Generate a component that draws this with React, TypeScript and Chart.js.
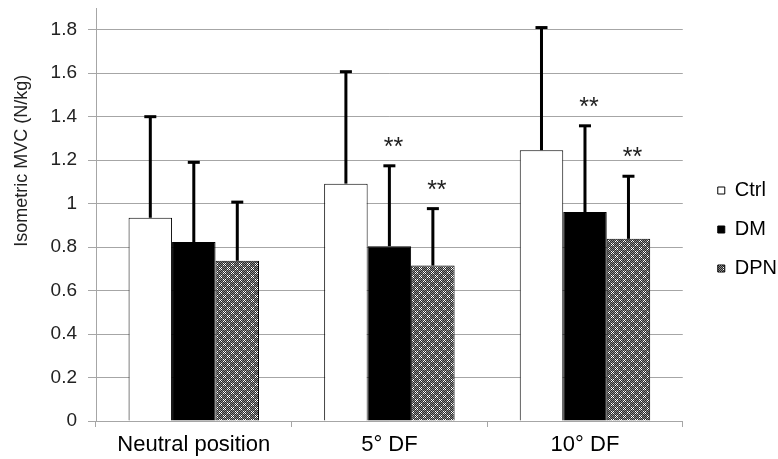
import React, { useEffect, useRef } from 'react';
import { Chart, registerables } from 'chart.js';

Chart.register(...registerables);

// ---- data ----
const categories = ['Neutral position', '5° DF', '10° DF'];
const seriesNames = ['Ctrl', 'DM', 'DPN'];
const ctrlMean = [0.935, 1.092, 1.246];
const dmMean = [0.823, 0.804, 0.961];
const dpnMean = [0.737, 0.715, 0.838];
const ctrlSD = [0.465, 0.515, 0.564];
const dmSD = [0.367, 0.37, 0.397];
const dpnSD = [0.27, 0.262, 0.288];
const ctrlSig = ['', '', ''];
const dmSig = ['', '**', '**'];
const dpnSig = ['', '**', '**'];
const yTicks = [0, 0.2, 0.4, 0.6, 0.8, 1, 1.2, 1.4, 1.6, 1.8];
const yTickLabels = ['0', '0.2', '0.4', '0.6', '0.8', '1', '1.2', '1.4', '1.6', '1.8'];
const yMax = 1.9;
const yTitle = 'Isometric MVC (N/kg)';

const FONT = '"Liberation Sans", Arial, sans-serif';
const GRID = '#a6a6a6';

function makePattern(): CanvasPattern | string {
  const c = document.createElement('canvas');
  c.width = 8;
  c.height = 8;
  const g = c.getContext('2d');
  if (!g) return '#777';
  g.fillStyle = '#8a8a8a';
  g.fillRect(0, 0, 8, 8);
  g.fillStyle = '#2a2a2a';
  for (let yy = 0; yy < 8; yy++) {
    for (let xx = 0; xx < 8; xx++) {
      if ((xx + yy) % 2 === 1) g.fillRect(xx, yy, 1, 1);
    }
  }
  g.fillStyle = '#ffffff';
  const whites = [
    [4, 4], [3, 3], [5, 5], [3, 5], [5, 3],
    [0, 0], [7, 7], [1, 1], [7, 1], [1, 7],
  ];
  whites.forEach(([xx, yy]) => g.fillRect(xx, yy, 1, 1));
  const p = g.createPattern(c, 'repeat');
  return p || '#777';
}

export default function App() {
  const ref = useRef<HTMLCanvasElement | null>(null);

  useEffect(() => {
    document.body.style.margin = '0';
    const canvas = ref.current;
    if (!canvas) return;
    const pattern = makePattern();
    const means = [ctrlMean, dmMean, dpnMean];
    const sds = [ctrlSD, dmSD, dpnSD];
    const sigs = [ctrlSig, dmSig, dpnSig];

    const errPlugin = {
      id: 'errbars',
      afterDatasetsDraw(chart: any) {
        const ctx = chart.ctx;
        const ys = chart.scales.y;
        chart.data.datasets.forEach((_ds: any, i: number) => {
          const meta = chart.getDatasetMeta(i);
          meta.data.forEach((bar: any, j: number) => {
            const top = ys.getPixelForValue(means[i][j] + sds[i][j]);
            const x = bar.x;
            ctx.save();
            ctx.fillStyle = '#000';
            ctx.fillRect(x - 1.5, top, 3, bar.y - top);
            ctx.fillRect(x - 6, top - 1.5, 12, 3);
            const s = sigs[i][j];
            if (s) {
              ctx.font = `25px ${FONT}`;
              ctx.textAlign = 'center';
              ctx.textBaseline = 'alphabetic';
              const m = ctx.measureText(s);
              const cy = top - 24;
              const by = cy + (m.actualBoundingBoxAscent - m.actualBoundingBoxDescent) / 2;
              ctx.fillStyle = '#222';
              ctx.fillText(s, x + 4, by);
            }
            ctx.restore();
          });
        });
      },
    };

    const titlePlugin = {
      id: 'ytitle',
      afterDraw(chart: any) {
        const ctx = chart.ctx;
        const a = chart.chartArea;
        ctx.save();
        ctx.translate(22, a.top + (a.bottom - a.top) * 0.37);
        ctx.rotate(-Math.PI / 2);
        ctx.font = `18px ${FONT}`;
        ctx.fillStyle = '#222';
        ctx.textAlign = 'center';
        ctx.textBaseline = 'middle';
        ctx.fillText(yTitle, 0, 0);
        ctx.restore();
      },
    };

    const legendShift = {
      id: 'legendShift',
      afterLayout(chart: any) {
        const lg = chart.legend;
        if (!lg) return;
        lg.left += 16;
        lg.right += 16;
        lg.top -= 4;
        lg.bottom -= 4;
      },
    };

    const chart = new Chart(canvas, {
      type: 'bar',
      data: {
        labels: categories,
        datasets: [
          {
            label: seriesNames[0],
            data: ctrlMean,
            backgroundColor: '#ffffff',
            borderColor: '#000000',
            borderWidth: 1,
          },
          {
            label: seriesNames[1],
            data: dmMean,
            backgroundColor: '#000000',
            borderColor: '#000000',
            borderWidth: 1,
          },
          {
            label: seriesNames[2],
            data: dpnMean,
            backgroundColor: pattern as any,
            borderColor: '#000000',
            borderWidth: 1,
          },
        ],
      },
      options: {
        animation: false,
        responsive: false,
        events: [],
        layout: { padding: { left: 0, top: 8, right: 7, bottom: 0 } },
        datasets: {
          bar: { categoryPercentage: 0.667, barPercentage: 1 },
        },
        plugins: {
          tooltip: { enabled: false },
          legend: {
            position: 'right',
            labels: {
              font: { family: FONT, size: 20 },
              color: '#000',
              boxWidth: 7,
              boxHeight: 7,
              padding: 19,
            },
          },
        },
        scales: {
          x: {
            grid: {
              display: true,
              drawOnChartArea: false,
              offset: true,
              tickLength: 6,
              color: GRID,
            },
            border: { display: true, color: GRID },
            ticks: {
              font: { family: FONT, size: 22 },
              color: '#000',
              padding: 5,
              maxRotation: 0,
              autoSkip: false,
            },
            afterFit(scale: any) {
              scale.height = 38;
              scale.paddingLeft = 0;
              scale.paddingRight = 0;
            },
          },
          y: {
            min: 0,
            max: yMax,
            grid: { color: GRID, tickLength: 8, drawTicks: true },
            border: { display: true, color: GRID },
            ticks: {
              font: { family: FONT, size: 19 },
              color: '#222',
              padding: 11,
              callback: (v: any) => {
                const k = yTicks.findIndex((t) => Math.abs(t - Number(v)) < 1e-6);
                return k >= 0 ? yTickLabels[k] : '';
              },
            },
            afterBuildTicks(scale: any) {
              scale.ticks = yTicks.map((v) => ({ value: v }));
            },
            afterFit(scale: any) {
              scale.width = 96;
              scale.paddingTop = 0;
              scale.paddingBottom = 0;
            },
          },
        },
      },
      plugins: [errPlugin, titlePlugin, legendShift],
    } as any);

    return () => chart.destroy();
  }, []);

  return (
    <canvas
      ref={ref}
      width={778}
      height={459}
      style={{ display: 'block', position: 'absolute', left: 0, top: 0 }}
    />
  );
}
